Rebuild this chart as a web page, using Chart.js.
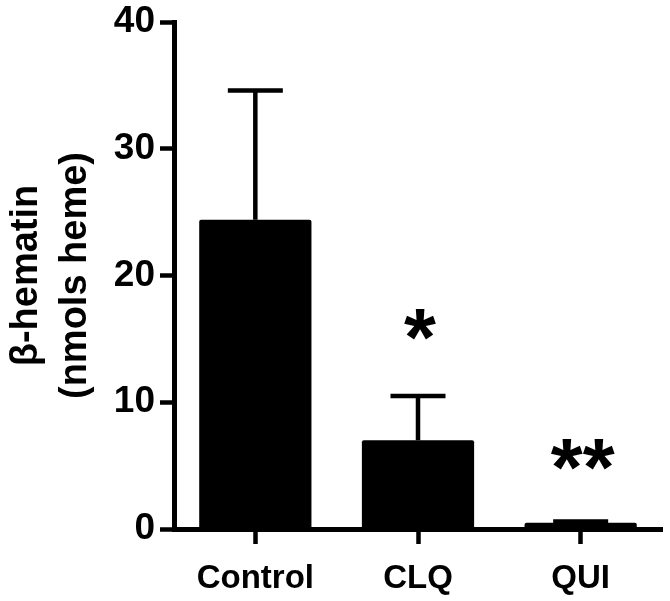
<!DOCTYPE html>
<html>
<head>
<meta charset="utf-8">
<script src="https://cdn.jsdelivr.net/npm/chart.js@4/dist/chart.umd.min.js"></script>
<style>
  html, body { margin: 0; padding: 0; background: #fff; }
  #wrap { width: 670px; height: 601px; }
</style>
</head>
<body>
<div id="wrap"><canvas id="myChart" width="670" height="601"></canvas></div>
<script>
// data
const groups = ['Control', 'CLQ', 'QUI'];
const means = [24.4, 7.0, 0.5];
const errors = [10.2, 3.5, 0.1];
const marks = ['', '*', '**'];
const markLevels = [null, 16.1, 5.9];
const yTicks = [0, 10, 20, 30, 40];

const FONT = '"Liberation Sans", Arial, sans-serif';

// draw SEM whiskers and significance stars on top of the bars
const extras = {
  id: 'extras',
  afterDatasetsDraw(chart) {
    const ctx = chart.ctx;
    const y = chart.scales.y;
    const meta = chart.getDatasetMeta(0);
    ctx.save();
    ctx.strokeStyle = '#000';
    ctx.fillStyle = '#000';
    meta.data.forEach((bar, i) => {
      const top = y.getPixelForValue(means[i] + errors[i]);
      const half = bar.width * 0.245;
      ctx.lineWidth = 4.5;
      ctx.beginPath();
      ctx.moveTo(bar.x, bar.y);
      ctx.lineTo(bar.x, top);
      ctx.moveTo(bar.x - half, top);
      ctx.lineTo(bar.x + half, top);
      ctx.stroke();

      if (marks[i]) {
        ctx.font = 'bold 82px ' + FONT;
        ctx.textAlign = 'center';
        ctx.textBaseline = 'alphabetic';
        const m = ctx.measureText(marks[i]);
        const cy = y.getPixelForValue(markLevels[i]);
        const off = (m.actualBoundingBoxAscent - m.actualBoundingBoxDescent) / 2;
        ctx.fillText(marks[i], bar.x + 2, cy + off);
      }
    });
    ctx.restore();
  }
};

function createChart() {
  const ctx = document.getElementById('myChart').getContext('2d');
  return new Chart(ctx, {
    type: 'bar',
    data: {
      labels: groups,
      datasets: [{
        data: means,
        backgroundColor: '#000',
        borderWidth: 0,
        borderRadius: 2,
        borderSkipped: 'bottom',
        barPercentage: 0.69,
        categoryPercentage: 1.0
      }]
    },
    options: {
      responsive: false,
      animation: false,
      layout: { padding: { top: 22, right: 8, left: 0, bottom: 0 } },
      plugins: {
        legend: { display: false },
        tooltip: { enabled: false }
      },
      scales: {
        x: {
          offset: true,
          grid: {
            display: true,
            offset: false,
            drawOnChartArea: false,
            drawTicks: true,
            tickLength: 15,
            tickWidth: 4.5,
            tickColor: '#000'
          },
          border: { display: true, color: '#000', width: 5 },
          ticks: {
            color: '#000',
            padding: 15,
            font: { family: FONT, size: 33, weight: 'bold' }
          },
          afterFit(scale) {
            scale.height = 72;
            scale.paddingLeft = 0;
            scale.paddingRight = 0;
          }
        },
        y: {
          min: 0,
          max: 40,
          afterBuildTicks(scale) {
            scale.ticks = yTicks.map(v => ({ value: v }));
          },
          grid: {
            display: true,
            drawOnChartArea: false,
            drawTicks: true,
            tickLength: 14,
            tickWidth: 4.5,
            tickColor: '#000'
          },
          border: { display: true, color: '#000', width: 5 },
          ticks: {
            color: '#000',
            padding: 5,
            font: { family: FONT, size: 37, weight: 'bold' }
          },
          title: {
            display: true,
            text: ['β-hematin', '(nmols heme)'],
            color: '#000',
            padding: { top: 2, bottom: 0 },
            font: { family: FONT, size: 38, weight: 'bold', lineHeight: 1.29 }
          },
          afterFit(scale) {
            scale.width = 174;
            scale.paddingTop = 0;
            scale.paddingBottom = 0;
          }
        }
      }
    },
    plugins: [extras]
  });
}

createChart();
</script>
</body>
</html>
